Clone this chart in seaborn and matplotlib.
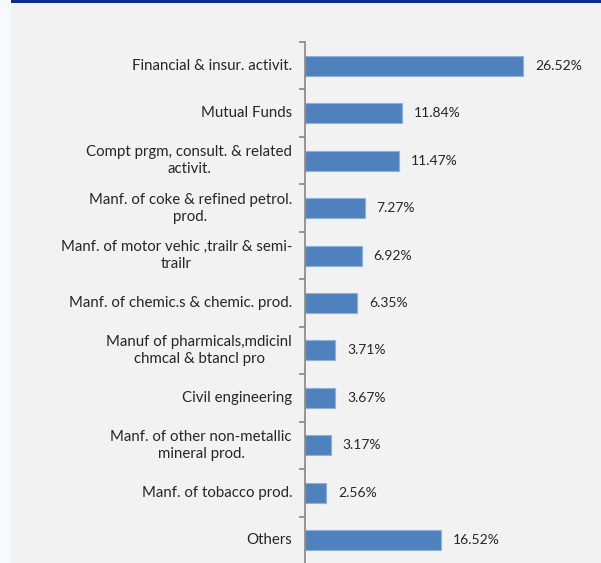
import matplotlib
matplotlib.use("Agg")
import matplotlib.pyplot as plt
import matplotlib.transforms as mtransforms
import seaborn as sns
import pandas as pd
import numpy as np
from matplotlib.patches import Rectangle

categories = [
    "Financial & insur. activit.",
    "Mutual Funds",
    "Compt prgm, consult. & related\nactivit.",
    "Manf. of coke & refined petrol.\nprod.",
    "Manf. of motor vehic ,trailr & semi-\ntrailr",
    "Manf. of chemic.s & chemic. prod.",
    "Manuf of pharmicals,mdicinl\nchmcal & btancl pro",
    "Civil engineering",
    "Manf. of other non-metallic\nmineral prod.",
    "Manf. of tobacco prod.",
    "Others",
]
values = [26.52, 11.84, 11.47, 7.27, 6.92, 6.35, 3.71, 3.67, 3.17, 2.56, 16.52]
value_labels = ["26.52%", "11.84%", "11.47%", "7.27%", "6.92%", "6.35%",
                "3.71%", "3.67%", "3.17%", "2.56%", "16.52%"]

df = pd.DataFrame({"cat": categories, "val": values})

sns.set_theme(style="white")
plt.rcParams["font.family"] = ["Lato", "DejaVu Sans"]

W, H = 601, 563
DPI = 100
fig = plt.figure(figsize=(W / DPI, H / DPI), dpi=DPI)
fig.patch.set_facecolor("#F2F2F2")

# left light strip and top dark line
fig.add_artist(Rectangle((0, 0), 11 / W, 1, transform=fig.transFigure,
                         facecolor="#F8F9FB", edgecolor="none", zorder=0))
fig.add_artist(Rectangle((11 / W, 1 - 2.5 / H), 1, 2.5 / H, transform=fig.transFigure,
                         facecolor="#0B2C8C", edgecolor="none", zorder=5))

left = 305 / W
right = 600 / W
top = 1 - 42 / H
bottom = 1 - 564 / H
ax = fig.add_axes([left, bottom, right - left, top - bottom])
ax.set_facecolor("#F2F2F2")

sns.barplot(data=df, x="val", y="cat", orient="h", color="#4F81BD",
            width=0.42, saturation=1, ax=ax, edgecolor="#8FB0DA", linewidth=0.8)

scale = (600 - 305) / 8.22
ax.set_xlim(0, scale)
ax.set_ylim(len(categories) - 0.5, -0.5)

for i, (v, lab) in enumerate(zip(values, value_labels)):
    ax.annotate(lab, xy=(v, i), xytext=(8.5, 0), textcoords="offset points",
                va="center", ha="left", fontsize=10, color="#262626")

ax.set_xlabel("")
ax.set_ylabel("")
ax.set_xticks([])
for s in ["top", "right", "bottom"]:
    ax.spines[s].set_visible(False)
ax.spines["left"].set_color("#868686")
ax.spines["left"].set_linewidth(1.2)

# category labels: block right-aligned next to the axis, each line centred
ax.set_yticks(np.arange(len(categories)))
ax.set_yticklabels([""] * len(categories))
ax.tick_params(axis="y", which="major", length=0)
renderer = fig.canvas.get_renderer()
blend = mtransforms.blended_transform_factory(ax.transAxes, ax.transData)
gap_px = 13
line_px = 17
for i, cat in enumerate(categories):
    lines = cat.split("\n")
    texts, widths = [], []
    for line in lines:
        t = ax.text(0, i, line, transform=blend, ha="right", va="center",
                    fontsize=10.8, color="#262626", clip_on=False)
        texts.append(t)
        widths.append(t.get_window_extent(renderer).width)
    maxw = max(widths)
    n = len(lines)
    for k, (t, w) in enumerate(zip(texts, widths)):
        dx = -(gap_px + (maxw - w) / 2)
        dy = -(k - (n - 1) / 2) * line_px
        t.set_transform(blend + mtransforms.ScaledTranslation(
            dx / DPI, dy / DPI, fig.dpi_scale_trans))

ax.set_yticks(np.arange(len(categories) + 1) - 0.5, minor=True)
ax.tick_params(axis="y", which="minor", length=4, width=1.2, color="#868686", left=True)

fig.savefig("out.png", dpi=DPI, facecolor=fig.get_facecolor())
